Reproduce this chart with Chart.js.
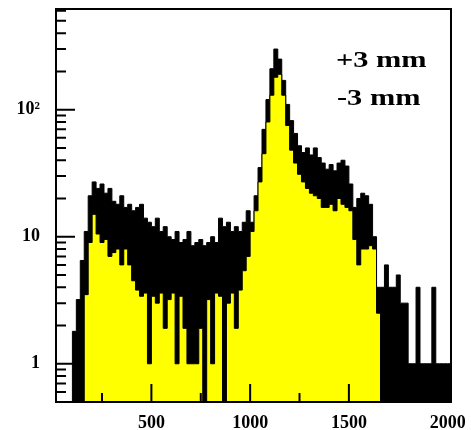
<!DOCTYPE html>
<html>
<head>
<meta charset="utf-8">
<script src="https://cdn.jsdelivr.net/npm/chart.js@4.4.0/dist/chart.umd.min.js"></script>
<style>
  html, body { margin: 0; padding: 0; background: #fff; }
</style>
</head>
<body>
<canvas id="histo" width="471" height="430"></canvas>
<script>
// --- histogram binning (channels) ---
const BIN_LOW = 0;
const BIN_WIDTH = 20;

// +3 mm, black histogram (counts per 20-channel bin, from 0 to 2020)
const countsPlus = [
  0, 0, 0, 0, 0, 1.8, 3.2, 6.5, 11, 21,
  27, 24, 26, 22, 24, 19, 18, 21, 17, 18,
  16, 17, 18, 14, 13, 12, 14, 11, 12, 10,
  9.5, 11, 9, 9.5, 11, 8.5, 9, 9.5, 8.5, 9,
  10, 9, 14, 12, 13, 11, 12, 11, 13, 16,
  13, 21, 35, 70, 120, 210, 300, 250, 170, 110,
  82, 65, 52, 46, 50, 44, 50, 42, 38, 34,
  37, 33, 38, 40, 36, 26, 17, 20, 22, 21,
  18, 10, 4, 4, 6, 4, 4, 5, 3, 3,
  1, 1, 4, 1, 1, 1, 4, 1, 1, 1,
  1
];

// -3 mm, yellow histogram
const countsMinus = [
  0, 0, 0, 0, 0, 0, 0, 0, 3.5, 9,
  15, 10.5, 9, 9.5, 7, 7.5, 8, 6, 8, 6,
  4.5, 3.8, 3.4, 3.6, 1, 3.4, 3, 3.6, 1.9, 3.2,
  3.6, 1, 3.4, 1.9, 1, 1, 1, 1.9, 0, 3.2,
  1, 3.6, 3.4, 0, 3, 3.6, 1.9, 3.8, 5.4, 7,
  11, 16, 27, 45, 80, 130, 180, 190, 130, 75,
  48, 38, 31, 27, 24, 22, 21, 20, 17, 17,
  18, 16, 20, 18, 17, 16, 9.5, 6, 8, 8,
  8.5, 8, 2.5, 0, 0, 0, 0, 0, 0, 0,
  0, 0, 0, 0, 0, 0, 0, 0, 0, 0,
  0
];

const xTicks = [500, 1000, 1500, 2000];
const xMinor = [250, 750, 1250, 1750];
const yTicks = [1, 10, 100];
const yTickLabels = ['1', '10', '10\u00b2'];
const yMinor = [0.6, 0.7, 0.8, 0.9, 2, 3, 4, 5, 6, 7, 8, 9,
                20, 30, 40, 50, 60, 70, 80, 90, 200, 300, 400, 500, 600];
const legendLines = ['+3 mm', '-3 mm'];

// empty bins can't sit on a log axis: push them under the frame
const EMPTY = 0.1;

function toSteps(counts) {
    const pts = counts.map((c, i) => ({ x: BIN_LOW + i * BIN_WIDTH, y: c > 0 ? c : EMPTY }));
    const last = counts[counts.length - 1];
    pts.push({ x: BIN_LOW + counts.length * BIN_WIDTH, y: last > 0 ? last : EMPTY });
    return pts;
}

// no extra room for labels: keep the frame where ROOT put it
function noPad(s) {
    s.paddingLeft = 0;
    s.paddingRight = 0;
    s.paddingTop = 0;
    s.paddingBottom = 0;
}

// frame, inner ticks (ROOT style) and the two labels
const rootFrame = {
    id: 'rootFrame',
    afterDatasetsDraw(chart) {
        const { ctx, chartArea: a, scales: { x, y } } = chart;
        ctx.save();
        ctx.strokeStyle = '#000';
        ctx.lineWidth = 2;
        ctx.beginPath();
        xTicks.forEach(v => {
            const px = x.getPixelForValue(v);
            ctx.moveTo(px, a.bottom);
            ctx.lineTo(px, a.bottom - 18);
        });
        xMinor.forEach(v => {
            const px = x.getPixelForValue(v);
            ctx.moveTo(px, a.bottom);
            ctx.lineTo(px, a.bottom - 9);
        });
        yTicks.forEach(v => {
            const py = y.getPixelForValue(v);
            ctx.moveTo(a.left, py);
            ctx.lineTo(a.left + 19, py);
        });
        yMinor.forEach(v => {
            const py = y.getPixelForValue(v);
            if (py < a.top || py > a.bottom) return;
            ctx.moveTo(a.left, py);
            ctx.lineTo(a.left + 10, py);
        });
        ctx.stroke();
        ctx.strokeRect(a.left, a.top, a.right - a.left, a.bottom - a.top);

        ctx.fillStyle = '#000';
        ctx.font = 'bold 23px "Liberation Serif"';
        ctx.textBaseline = 'alphabetic';
        const pos = [[336, 67], [337, 105]];
        legendLines.forEach((t, i) => {
            ctx.save();
            ctx.translate(pos[i][0], pos[i][1]);
            ctx.scale(1.32, 1);
            ctx.fillText(t, 0, 0);
            ctx.restore();
        });
        ctx.restore();
    }
};

const tickFont = { family: 'Liberation Serif', size: 18, weight: 'bold' };

new Chart(document.getElementById('histo'), {
    type: 'line',
    data: {
        datasets: [
            {
                label: '-3 mm',
                data: toSteps(countsMinus),
                stepped: 'before',
                borderColor: '#000',
                backgroundColor: '#ffff00',
                borderWidth: 1,
                fill: 'start',
                pointRadius: 0,
                order: 0
            },
            {
                label: '+3 mm',
                data: toSteps(countsPlus),
                stepped: 'before',
                borderColor: '#000',
                backgroundColor: '#000',
                borderWidth: 1,
                fill: 'start',
                pointRadius: 0,
                order: 1
            }
        ]
    },
    options: {
        responsive: false,
        animation: false,
        devicePixelRatio: 1,
        layout: { padding: { left: 0, right: 20, top: 9, bottom: 0 } },
        plugins: {
            legend: { display: false },
            tooltip: { enabled: false }
        },
        scales: {
            x: {
                type: 'linear',
                min: 17,
                max: 2017,
                afterBuildTicks: s => { s.ticks = xTicks.map(v => ({ value: v })); },
                afterFit: s => { s.height = 28; noPad(s); },
                grid: { display: false, drawTicks: false },
                border: { display: false },
                ticks: {
                    color: '#000',
                    font: tickFont,
                    padding: 11,
                    maxRotation: 0,
                    autoSkip: false,
                    callback: v => String(v)
                }
            },
            y: {
                type: 'logarithmic',
                min: 0.5,
                max: 620,
                afterBuildTicks: s => { s.ticks = yTicks.map(v => ({ value: v })); },
                afterFit: s => { s.width = 56; noPad(s); },
                grid: { display: false, drawTicks: false },
                border: { display: false },
                ticks: {
                    color: '#000',
                    font: tickFont,
                    padding: 16,
                    autoSkip: false,
                    callback: (v, i) => yTickLabels[i]
                }
            }
        }
    },
    plugins: [rootFrame]
});
</script>
</body>
</html>
